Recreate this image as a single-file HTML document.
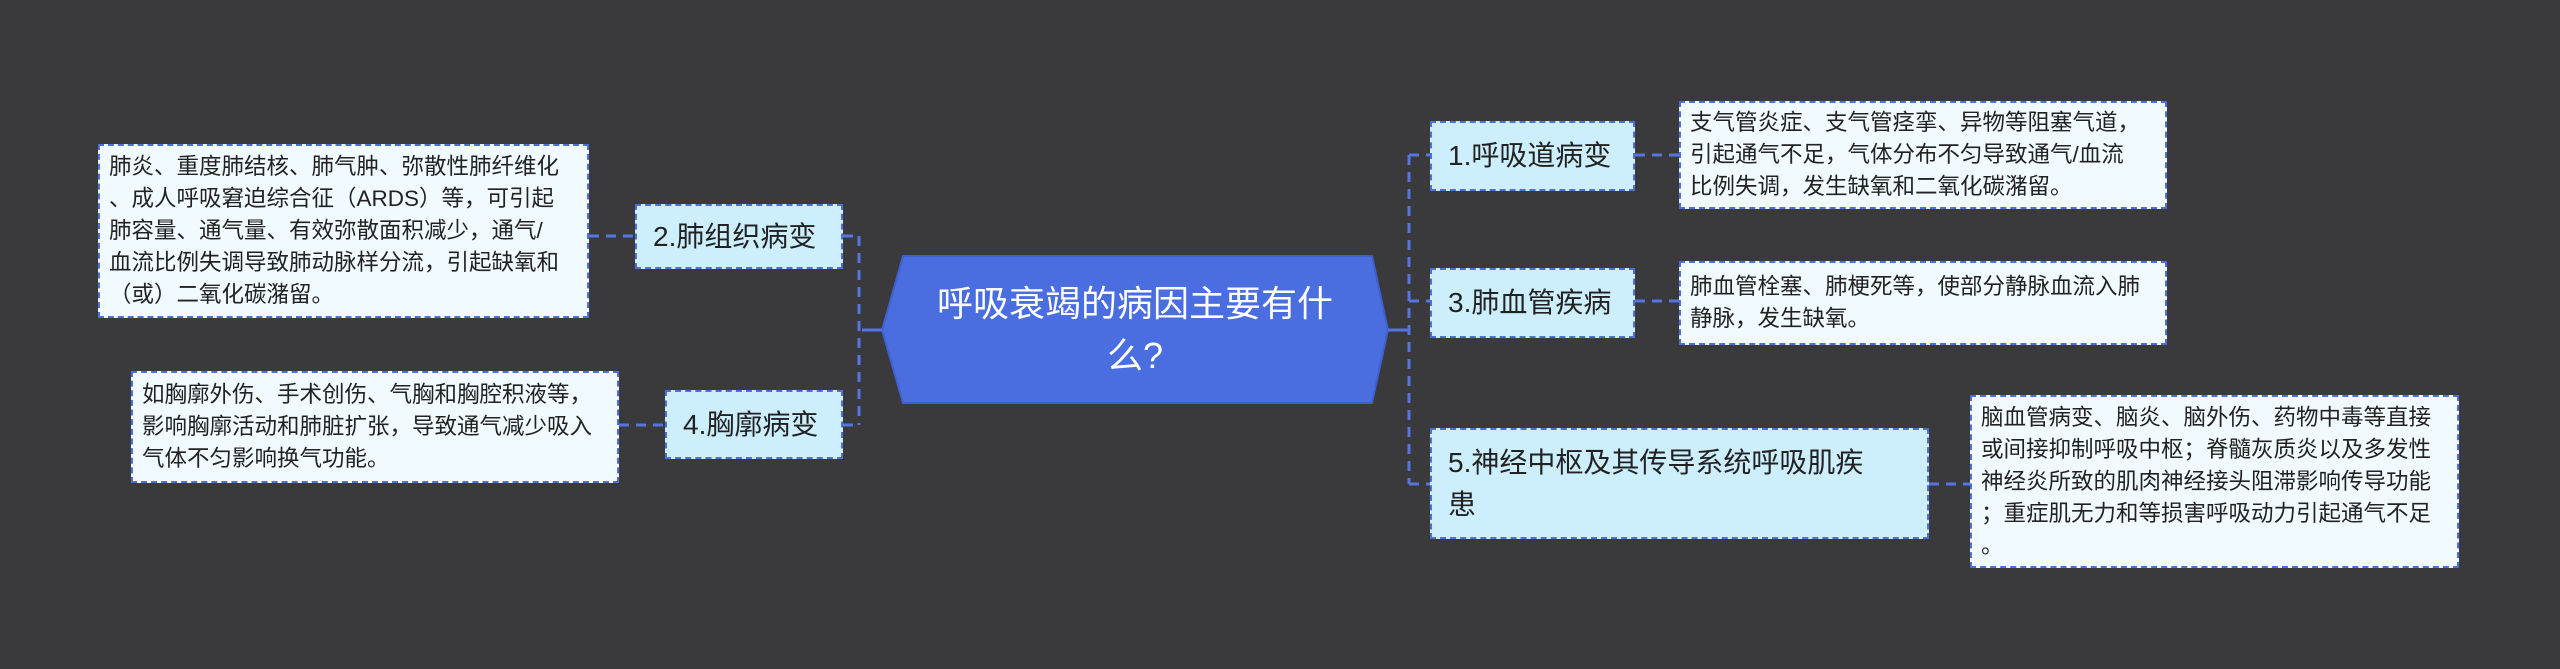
<!DOCTYPE html>
<html><head><meta charset="utf-8"><style>
html,body{margin:0;padding:0;background:#3a393b;}
body{width:2560px;height:669px;position:relative;overflow:hidden;font-family:"Liberation Sans","Noto Sans CJK SC",sans-serif;}
.b{position:absolute;box-sizing:border-box;border:2px dashed #4d6fd9;background:#cdeefd;color:#222;font-size:28px;line-height:42px;padding:0 16px;display:flex;align-items:center;white-space:nowrap;}
.d{position:absolute;box-sizing:border-box;border:2px dashed #4d6fd9;background:#f1fbff;color:#222;font-size:22.5px;line-height:32px;padding:0 9px;display:flex;align-items:center;white-space:nowrap;}
svg{position:absolute;left:0;top:0;}
.c{position:absolute;left:882px;top:256px;width:506px;height:147px;color:#fff;font-size:36px;line-height:52px;text-align:center;display:flex;align-items:center;justify-content:center;white-space:nowrap;}
</style></head><body>
<svg width="2560" height="669">
<polygon points="903,256 1372,256 1388,330 1372,403 903,403 882,330" fill="#4a6de0" stroke="#3f5fcc" stroke-width="2"/>
<g stroke="#5575e0" stroke-width="3" fill="none">
<line x1="1388" y1="330" x2="1409" y2="330"/>
<line x1="862" y1="330" x2="882" y2="330"/>
<g stroke-dasharray="10,7">
<line x1="1409" y1="155" x2="1409" y2="484"/>
<line x1="1409" y1="155" x2="1430" y2="155"/>
<line x1="1409" y1="301" x2="1430" y2="301"/>
<line x1="1409" y1="484" x2="1430" y2="484"/>
<line x1="1635" y1="155" x2="1679" y2="155"/>
<line x1="1635" y1="301" x2="1679" y2="301"/>
<line x1="1929" y1="484" x2="1970" y2="484"/>
<line x1="859" y1="236" x2="859" y2="425"/>
<line x1="843" y1="236" x2="859" y2="236"/>
<line x1="843" y1="425" x2="859" y2="425"/>
<line x1="589" y1="236" x2="635" y2="236"/>
<line x1="619" y1="425" x2="665" y2="425"/>
</g></g>
</svg>
<div class="c">呼吸衰竭的病因主要有什<br>么?</div>
<div class="d" style="left:98px;top:144px;width:491px;height:174px;">肺炎、重度肺结核、肺气肿、弥散性肺纤维化<br>、成人呼吸窘迫综合征（ARDS）等，可引起<br>肺容量、通气量、有效弥散面积减少，通气/<br>血流比例失调导致肺动脉样分流，引起缺氧和<br>（或）二氧化碳潴留。</div>
<div class="b" style="left:635px;top:204px;width:208px;height:65px;">2.肺组织病变</div>
<div class="d" style="left:131px;top:371px;width:488px;height:112px;">如胸廓外伤、手术创伤、气胸和胸腔积液等，<br>影响胸廓活动和肺脏扩张，导致通气减少吸入<br>气体不匀影响换气功能。</div>
<div class="b" style="left:665px;top:390px;width:178px;height:69px;">4.胸廓病变</div>
<div class="b" style="left:1430px;top:121px;width:205px;height:70px;">1.呼吸道病变</div>
<div class="d" style="left:1679px;top:101px;width:488px;height:108px;">支气管炎症、支气管痉挛、异物等阻塞气道，<br>引起通气不足，气体分布不匀导致通气/血流<br>比例失调，发生缺氧和二氧化碳潴留。</div>
<div class="b" style="left:1430px;top:268px;width:205px;height:70px;">3.肺血管疾病</div>
<div class="d" style="left:1679px;top:261px;width:488px;height:84px;">肺血管栓塞、肺梗死等，使部分静脉血流入肺<br>静脉，发生缺氧。</div>
<div class="b" style="left:1430px;top:428px;width:499px;height:111px;">5.神经中枢及其传导系统呼吸肌疾<br>患</div>
<div class="d" style="left:1970px;top:395px;width:489px;height:173px;">脑血管病变、脑炎、脑外伤、药物中毒等直接<br>或间接抑制呼吸中枢；脊髓灰质炎以及多发性<br>神经炎所致的肌肉神经接头阻滞影响传导功能<br>；重症肌无力和等损害呼吸动力引起通气不足<br>。</div>
</body></html>
